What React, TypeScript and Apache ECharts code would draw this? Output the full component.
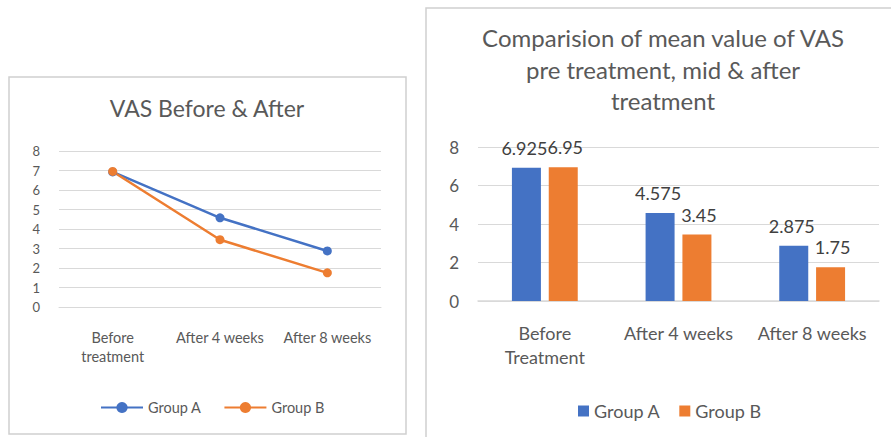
import React, { useEffect, useRef } from "react";
import * as echarts from "echarts";

const lineCategories = ["Before\ntreatment", "After 4 weeks", "After 8 weeks"];
const barCategories = ["Before\nTreatment", "After 4 weeks", "After 8 weeks"];
const groupA = [6.925, 4.575, 2.875];
const groupB = [6.95, 3.45, 1.75];
const seriesNames = ["Group A", "Group B"];
const leftTitle = "VAS Before & After";
const rightTitle = "Comparision of mean value of VAS\npre treatment, mid & after\ntreatment";

const BLUE = "#4472C4";
const ORANGE = "#ED7D31";
const TEXT = "#595959";
const GRID = "#D9D9D9";
const FONT = "Lato, 'Open Sans', sans-serif";

export default function App() {
  const ref = useRef<HTMLDivElement>(null);
  useEffect(() => {
    if (!ref.current) return;
    const chart = echarts.init(ref.current, undefined, { renderer: "svg" });
    chart.setOption({
      animation: false,
      backgroundColor: "#fff",
      textStyle: { fontFamily: FONT },
      graphic: [
        { type: "rect", shape: { x: 9, y: 77, width: 397, height: 357 }, style: { fill: "none", stroke: "#D0D0D0", lineWidth: 1.5 } },
        { type: "rect", shape: { x: 426, y: 8, width: 480, height: 440 }, style: { fill: "none", stroke: "#D0D0D0", lineWidth: 1.5 } },
      ],
      title: [
        {
          text: leftTitle,
          left: 202,
          textAlign: "center",
          top: 91,
          textStyle: { fontFamily: FONT, fontSize: 23, fontWeight: "normal", color: TEXT },
        },
        {
          text: rightTitle,
          left: 658,
          textAlign: "center",
          top: 17,
          textStyle: { fontFamily: FONT, fontSize: 24, fontWeight: "normal", color: TEXT, lineHeight: 31.5 },
        },
      ],
      legend: [
        {
          data: seriesNames,
          left: 95,
          top: 395,
          itemWidth: 42,
          itemHeight: 14,
          itemGap: 22,
          textStyle: { fontFamily: FONT, fontSize: 14.5, color: TEXT },
        },
        {
          data: seriesNames.map((n) => ({ name: n, icon: "rect" })),
          left: 573,
          top: 397,
          itemWidth: 11,
          itemHeight: 11,
          itemGap: 19,
          textStyle: { fontFamily: FONT, fontSize: 18, color: TEXT },
        },
      ],
      grid: [
        { left: 59, top: 151, width: 322, height: 156 },
        { left: 478, top: 147, width: 401, height: 154 },
      ],
      xAxis: [
        {
          type: "category",
          gridIndex: 0,
          data: lineCategories,
          axisLine: { lineStyle: { color: GRID } },
          axisTick: { show: false },
          axisLabel: { fontFamily: FONT, fontSize: 14.5, color: TEXT, margin: 21, lineHeight: 19, interval: 0 },
        },
        {
          type: "category",
          gridIndex: 1,
          data: barCategories,
          axisLine: { lineStyle: { color: GRID, width: 1.5 } },
          axisTick: { show: false },
          axisLabel: { fontFamily: FONT, fontSize: 18, color: TEXT, margin: 20, lineHeight: 24, interval: 0 },
        },
      ],
      yAxis: [
        {
          type: "value",
          gridIndex: 0,
          min: 0,
          max: 8,
          interval: 1,
          axisLine: { show: false },
          axisTick: { show: false },
          splitLine: { lineStyle: { color: GRID } },
          axisLabel: { fontFamily: FONT, fontSize: 13, color: TEXT, margin: 19 },
        },
        {
          type: "value",
          gridIndex: 1,
          min: 0,
          max: 8,
          interval: 2,
          axisLine: { show: false },
          axisTick: { show: false },
          splitLine: { lineStyle: { color: GRID } },
          axisLabel: { fontFamily: FONT, fontSize: 17, color: TEXT, margin: 19 },
        },
      ],
      series: [
        {
          name: seriesNames[0],
          type: "line",
          xAxisIndex: 0,
          yAxisIndex: 0,
          data: groupA,
          color: BLUE,
          symbol: "circle",
          symbolSize: 9,
          lineStyle: { width: 2.5, color: BLUE },
          itemStyle: { color: BLUE },
        },
        {
          name: seriesNames[1],
          type: "line",
          xAxisIndex: 0,
          yAxisIndex: 0,
          data: groupB,
          color: ORANGE,
          symbol: "circle",
          symbolSize: 9,
          lineStyle: { width: 2.5, color: ORANGE },
          itemStyle: { color: ORANGE },
        },
        {
          name: seriesNames[0],
          type: "bar",
          xAxisIndex: 1,
          yAxisIndex: 1,
          data: groupA,
          color: BLUE,
          barWidth: 29,
          barGap: "27%",
          itemStyle: { color: BLUE },
          label: { show: true, position: "top", distance: 11, offset: [-2, 0], fontFamily: FONT, fontSize: 18, color: "#404040" },
        },
        {
          name: seriesNames[1],
          type: "bar",
          xAxisIndex: 1,
          yAxisIndex: 1,
          data: groupB,
          color: ORANGE,
          barWidth: 29,
          barGap: "27%",
          itemStyle: { color: ORANGE },
          label: { show: true, position: "top", distance: 11, offset: [2, 0], fontFamily: FONT, fontSize: 18, color: "#404040" },
        },
      ],
    });
    return () => chart.dispose();
  }, []);
  return <div ref={ref} style={{ position: "fixed", left: 0, top: 0, width: 891, height: 437 }} />;
}
